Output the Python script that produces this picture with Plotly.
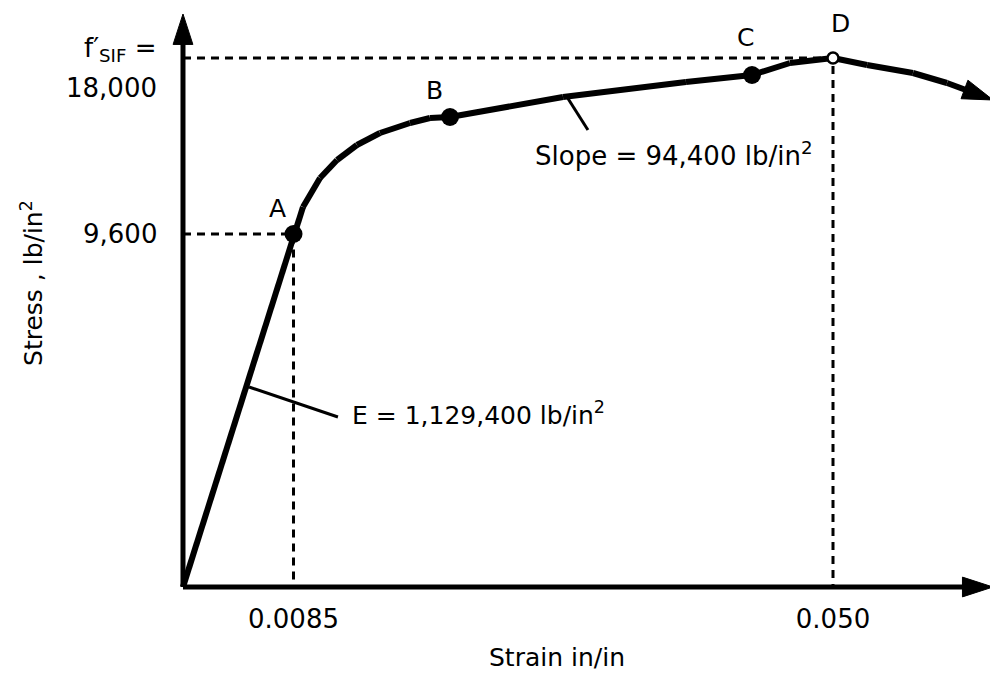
import numpy as np
import plotly.graph_objects as go

# ---------------- data (strain in/in, stress lb/in^2) ----------------
curve_strain = [0.0, 0.0085, 0.00923, 0.01054, 0.01185, 0.01338, 0.01515, 0.01746,
                0.01900, 0.02054, 0.02923, 0.03869, 0.04077, 0.04377, 0.04669,
                0.0500, 0.05262, 0.05615, 0.05877, 0.06231]
curve_stress = [0, 9600, 10889, 12273, 13132, 13848, 14420, 14898,
                15136, 15184, 16139, 16855, 16998, 17189, 17761,
                18000, 17666, 17284, 16807, 15995]

point_labels = ["A", "B", "C", "D"]
point_strain = [0.0085, 0.02054, 0.04377, 0.0500]
point_stress = [9600, 15184, 17189, 18000]

x_tick_vals = [0.0085, 0.050]
x_tick_text = ["0.0085", "0.050"]
y_tick_vals = [9600, 18000]
y_tick_text = ["9,600", "18,000"]
y_tick_prefix = "f\u2032<sub>SIF</sub> ="   # written above the 18,000 label

x_axis_end = 0.0623      # strain at the x-axis arrow tip
y_axis_end = 20100       # stress at the y-axis arrow tip

# leader lines for the slope / modulus notes
slope_leader_strain = [0.02954, 0.03115]
slope_leader_stress = [16139, 14564]
e_leader_strain = [0.00508, 0.01192]
e_leader_stress = [5439, 4623]

slope_text = "Slope = 94,400 lb/in<sup>2</sup>"
e_text = "E = 1,129,400 lb/in<sup>2</sup>"

# the stress axis of the sketch is not drawn to scale: piecewise scale
stress_anchor = [9600, 18000]
height_anchor = [353, 529]


def to_draw(stress):
    s = np.asarray(np.atleast_1d(stress), float)
    k1 = height_anchor[0] / stress_anchor[0]
    k2 = (height_anchor[1] - height_anchor[0]) / (stress_anchor[1] - stress_anchor[0])
    return np.where(s <= stress_anchor[0], s * k1, height_anchor[0] + (s - stress_anchor[0]) * k2)


def d1(v):
    return float(to_draw([v])[0])


FONT = "DejaVu Sans"
BLACK = "#000000"
ARROW = 32

fig = go.Figure()

# dashed guide lines
for xs, ys in [([0, 0.0085, 0.0085], [9600, 9600, 0]),
               ([0, 0.050, 0.050], [18000, 18000, 0])]:
    fig.add_trace(go.Scatter(x=xs, y=to_draw(ys), mode="lines",
                             line=dict(color=BLACK, width=3, dash="8px,6px"),
                             hoverinfo="skip"))


def arrow_marker(sizes):
    return dict(symbol="arrow", size=sizes, angleref="previous", color=BLACK,
                opacity=1, line=dict(color=BLACK, width=1))


# axes with arrowheads
fig.add_trace(go.Scatter(x=[0, x_axis_end], y=to_draw([0, 0]), mode="lines+markers",
                         line=dict(color=BLACK, width=5), marker=arrow_marker([0, ARROW]),
                         opacity=1, cliponaxis=False, hoverinfo="skip"))
fig.add_trace(go.Scatter(x=[0, 0], y=to_draw([0, y_axis_end]), mode="lines+markers",
                         line=dict(color=BLACK, width=5), marker=arrow_marker([0, ARROW]),
                         opacity=1, cliponaxis=False, hoverinfo="skip"))

# stress-strain curve
n = len(curve_strain)
fig.add_trace(go.Scatter(x=curve_strain, y=to_draw(curve_stress), mode="lines+markers",
                         line=dict(color=BLACK, width=6),
                         marker=arrow_marker([0] * (n - 1) + [ARROW]),
                         opacity=1, cliponaxis=False, hoverinfo="skip"))

# leader lines
for xs, ys in [(slope_leader_strain, slope_leader_stress), (e_leader_strain, e_leader_stress)]:
    fig.add_trace(go.Scatter(x=xs, y=to_draw(ys), mode="lines",
                             line=dict(color=BLACK, width=3), hoverinfo="skip"))

# points A, B, C (filled) and D (open)
fig.add_trace(go.Scatter(x=point_strain[:3], y=to_draw(point_stress[:3]), mode="markers",
                         marker=dict(symbol="circle", size=18, color=BLACK),
                         cliponaxis=False, hoverinfo="skip"))
fig.add_trace(go.Scatter(x=point_strain[3:], y=to_draw(point_stress[3:]), mode="markers",
                         marker=dict(symbol="circle", size=11, color="white",
                                     line=dict(color=BLACK, width=2.5)),
                         cliponaxis=False, hoverinfo="skip"))

txt = dict(family=FONT, size=25, color=BLACK)

# point labels
label_shift = {"A": (-16, 26), "B": (-16, 27), "C": (-7, 37), "D": (7, 35)}
for lab, sx, sy in zip(point_labels, point_strain, point_stress):
    dx, dy = label_shift[lab]
    fig.add_annotation(x=sx, y=d1(sy), text=lab, showarrow=False,
                       xshift=dx, yshift=dy, font=txt)

# y tick labels (right aligned against the axis)
tick_font = dict(family=FONT, size=26, color=BLACK)
fig.add_annotation(xref="paper", x=0, y=d1(y_tick_vals[0]), text=y_tick_text[0],
                   showarrow=False, xanchor="right", yanchor="middle", xshift=-4,
                   font=tick_font)
fig.add_annotation(xref="paper", x=0, y=d1(y_tick_vals[1]), text=y_tick_text[1],
                   showarrow=False, xanchor="right", yanchor="middle", xshift=-4, yshift=-30,
                   font=tick_font)
fig.add_annotation(xref="paper", x=0, y=d1(y_tick_vals[1]), text=y_tick_prefix,
                   showarrow=False, xanchor="right", yanchor="middle", xshift=-4, yshift=9,
                   font=tick_font)

# notes
fig.add_annotation(x=0.0269, y=d1(13420), text=slope_text, showarrow=False,
                   xanchor="left", yanchor="middle", font=dict(family=FONT, size=26, color=BLACK))
fig.add_annotation(x=0.01285, y=d1(4705), text=e_text, showarrow=False,
                   xanchor="left", yanchor="middle", font=txt)

# axis titles
fig.add_annotation(xref="paper", yref="paper", x=0.4718, y=-0.0998, text="Strain in/in",
                   showarrow=False, xanchor="center", yanchor="middle", font=txt)
fig.add_annotation(xref="paper", yref="paper", x=-0.1557, y=0.5347,
                   text="Stress , lb/in<sup>2</sup>", textangle=-90, showarrow=False,
                   xanchor="center", yanchor="middle", font=txt)

fig.update_layout(
    width=990, height=668,
    margin=dict(l=155, r=0, t=0, b=77),
    plot_bgcolor="white", paper_bgcolor="white",
    showlegend=False,
    font=dict(family=FONT, size=26, color=BLACK),
    xaxis=dict(range=[-0.001538, 0.062692], showgrid=False, zeroline=False, showline=False,
               tickmode="array", tickvals=x_tick_vals, ticktext=x_tick_text, ticks="",
               ticklabelstandoff=2, fixedrange=True),
    yaxis=dict(range=[-12, 579], showgrid=False, zeroline=False, showline=False,
               showticklabels=False, fixedrange=True),
)

fig.write_html("out.html")
